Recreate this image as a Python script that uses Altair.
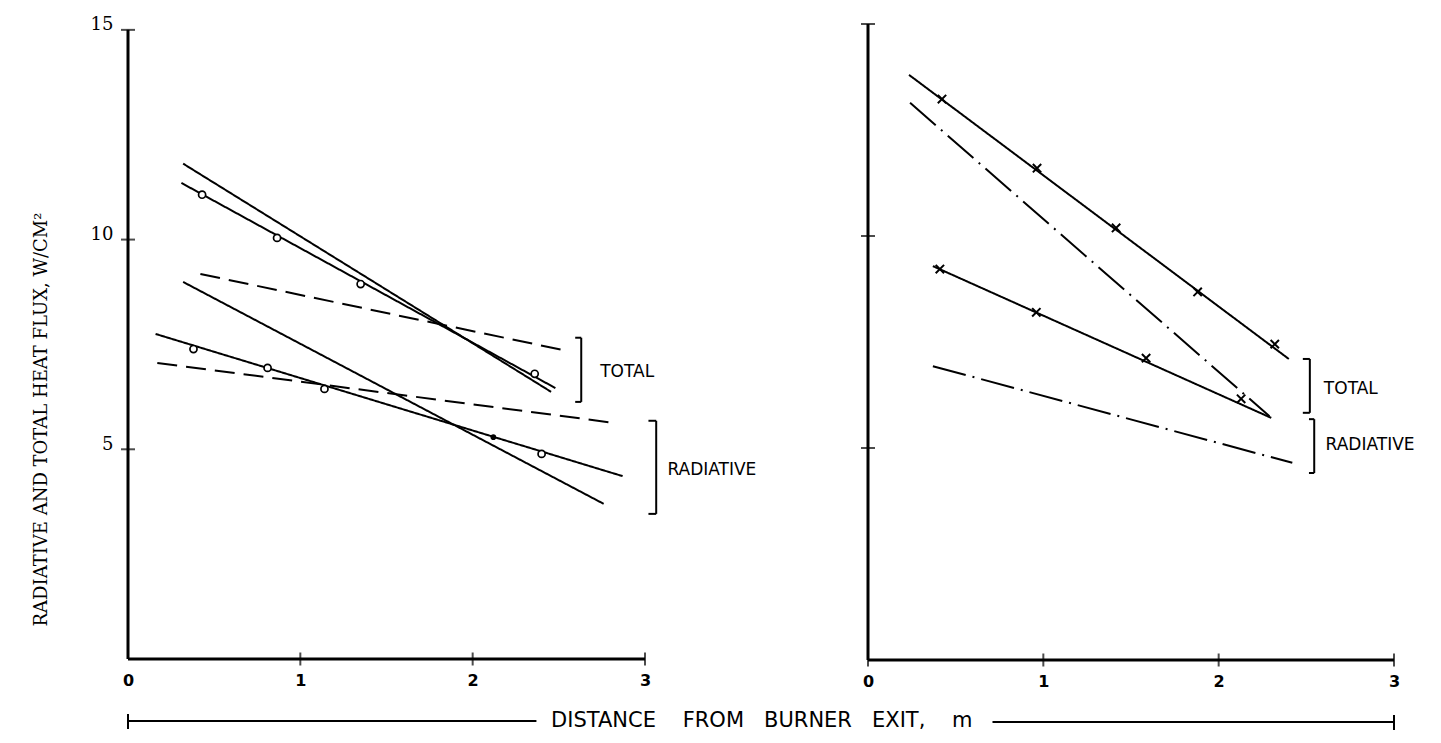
import altair as alt
import pandas as pd

# ---------------- values ----------------
# LEFT PANEL (open circles = measurements)
L_TOT_FIT_X = [0.32, 2.455]
L_TOT_FIT_Y = [11.81, 6.37]
L_TOT_MEAS_X = [0.31, 2.48]
L_TOT_MEAS_Y = [11.35, 6.46]
L_TOT_PTS_X = [0.43, 0.865, 1.35, 2.36]
L_TOT_PTS_Y = [11.07, 10.04, 8.94, 6.80]
L_TOT_DASH_X = [0.42, 2.52]
L_TOT_DASH_Y = [9.18, 7.37]
L_RAD_FIT_X = [0.32, 2.76]
L_RAD_FIT_Y = [8.99, 3.70]
L_RAD_MEAS_X = [0.16, 2.87]
L_RAD_MEAS_Y = [7.75, 4.36]
L_RAD_PTS_X = [0.38, 0.81, 1.14, 2.40]
L_RAD_PTS_Y = [7.39, 6.94, 6.44, 4.89]
L_RAD_DOT_X = [2.12]
L_RAD_DOT_Y = [5.29]
L_RAD_DASH_X = [0.17, 2.82]
L_RAD_DASH_Y = [7.06, 5.63]

# RIGHT PANEL (crosses = measurements)
R_TOT_MEAS_X = [0.234, 2.40]
R_TOT_MEAS_Y = [13.80, 7.10]
R_TOT_PTS_X = [0.422, 0.964, 1.415, 1.88, 2.32]
R_TOT_PTS_Y = [13.23, 11.60, 10.19, 8.68, 7.45]
R_TOT_DD_X = [0.24, 2.29]
R_TOT_DD_Y = [13.14, 5.75]
R_RAD_MEAS_X = [0.37, 2.30]
R_RAD_MEAS_Y = [9.29, 5.71]
R_RAD_PTS_X = [0.41, 0.96, 1.586, 2.128]
R_RAD_PTS_Y = [9.22, 8.20, 7.12, 6.16]
R_RAD_DD_X = [0.37, 2.42]
R_RAD_DD_Y = [6.93, 4.65]

# tick values / labels
X_TICKS = [0, 1, 2, 3]
Y_TICKS = [5, 10, 15]
Y_TITLE = "RADIATIVE AND TOTAL HEAT FLUX, W/CM\u00b2"
X_TITLE = ("DISTANCE\u00a0\u00a0\u00a0\u00a0FROM\u00a0\u00a0\u00a0BURNER"
           "\u00a0\u00a0\u00a0EXIT,\u00a0\u00a0\u00a0\u00a0m")

# bracket annotations: [x, y_top, y_bottom, hook_x], label [x, y]
L_BRACKETS = [[2.63, 7.66, 6.13, 2.595], [3.065, 5.68, 3.46, 3.02]]
L_LABELS = [[2.74, 6.84, "TOTAL"], [3.13, 4.51, "RADIATIVE"]]
R_BRACKETS = [[2.52, 7.10, 5.83, 2.48], [2.545, 5.68, 4.41, 2.515]]
R_LABELS = [[2.60, 6.39, "TOTAL"], [2.61, 5.07, "RADIATIVE"]]

# bottom "distance" rule pieces (in each panel's x units)
L_DIST_LINE = [0, 2.37]
L_DIST_TEXT_X = 2.455
R_DIST_LINE = [0.71, 3]

# ---------------- helpers ----------------
DASH_DOMAIN = ["solid", "dash", "dashdot"]
DASH_RANGE = [[1, 0], [20, 9], [34, 7, 2, 7]]


def lines_df(items):
    rows = []
    for name, style, xs, ys in items:
        for x, y in zip(xs, ys):
            rows.append({"series": name, "style": style, "x": x, "y": y})
    return pd.DataFrame(rows)


def pts_df(xs, ys):
    return pd.DataFrame({"x": xs, "y": ys})


def bracket_df(brs):
    rows = []
    for x, yt, yb, hx in brs:
        rows.append({"x": x, "y": yt, "x2": x, "y2": yb})
        rows.append({"x": hx, "y": yt, "x2": x, "y2": yt})
        rows.append({"x": hx, "y": yb, "x2": x, "y2": yb})
    return pd.DataFrame(rows)


def label_df(lbls):
    return pd.DataFrame([{"x": a, "y": b, "t": c} for a, b, c in lbls])


def panel(width, height, ydom, yaxis, xaxis, line_items, open_pts, filled_pts,
          pt_shape, brackets, labels, xticks, dist_line, dist_text_x, left_cap):
    xs = alt.Scale(domain=[0, 3], nice=False, zero=False)
    ys = alt.Scale(domain=ydom, nice=False, zero=False)
    X = alt.X("x:Q", scale=xs, axis=xaxis)
    Y = alt.Y("y:Q", scale=ys, axis=yaxis)

    axes_lines = pd.DataFrame({"x": [0, 0], "y": [0, 0], "x2": [0, 3], "y2": [15, 0]})
    frame = alt.Chart(axes_lines).mark_rule(color="black", strokeWidth=3).encode(
        x=X, y=Y, x2="x2:Q", y2="y2:Q")

    xt = alt.Chart(pd.DataFrame({"x": xticks, "y": [0] * len(xticks)})).mark_tick(
        orient="vertical", size=13, thickness=2, color="black").encode(x=X, y=Y)
    yt = alt.Chart(pd.DataFrame({"x": [0] * len(Y_TICKS), "y": Y_TICKS})).mark_tick(
        orient="horizontal", size=14, thickness=2, color="black").encode(x=X, y=Y)

    lines = alt.Chart(lines_df(line_items)).mark_line(
        color="black", strokeWidth=2).encode(
        x=X, y=Y, detail="series:N",
        strokeDash=alt.StrokeDash("style:N", scale=alt.Scale(domain=DASH_DOMAIN, range=DASH_RANGE),
                                  legend=None))

    layers = [frame, xt, yt, lines]
    if pt_shape == "circle":
        layers.append(alt.Chart(pts_df(*open_pts)).mark_point(
            shape="circle", size=50, filled=True, fill="white", stroke="black",
            strokeWidth=1.7, opacity=1).encode(x=X, y=Y))
        if filled_pts is not None:
            layers.append(alt.Chart(pts_df(*filled_pts)).mark_point(
                shape="circle", size=32, filled=True, color="black", opacity=1).encode(x=X, y=Y))
    else:
        layers.append(alt.Chart(pts_df(*open_pts)).mark_point(
            shape="M-1,-1L1,1M-1,1L1,-1", size=70, filled=False, stroke="black",
            strokeWidth=2, opacity=1).encode(x=X, y=Y))

    layers.append(alt.Chart(bracket_df(brackets)).mark_rule(color="black", strokeWidth=2).encode(
        x=X, y=Y, x2="x2:Q", y2="y2:Q"))
    layers.append(alt.Chart(label_df(labels)).mark_text(
        align="left", baseline="middle", font="DejaVu Sans", fontSize=17, color="black").encode(
        x=X, y=Y, text="t:N"))

    # bottom "distance" line with end caps
    dl = pd.DataFrame({"x": [dist_line[0]], "x2": [dist_line[1]]})
    layers.append(alt.Chart(dl).mark_rule(color="black", strokeWidth=2).encode(
        x=X, x2="x2:Q", y=alt.value(height + 62)))
    cap_x = dist_line[0] if left_cap else dist_line[1]
    layers.append(alt.Chart(pd.DataFrame({"x": [cap_x]})).mark_rule(
        color="black", strokeWidth=2).encode(
        x=X, y=alt.value(height + 55), y2=alt.value(height + 70)))
    if dist_text_x is not None:
        layers.append(alt.Chart(pd.DataFrame({"x": [dist_text_x], "t": [X_TITLE]})).mark_text(
            align="left", baseline="middle", font="DejaVu Sans", fontSize=21, color="black").encode(
            x=X, y=alt.value(height + 62), text="t:N"))

    return alt.layer(*layers).properties(width=width, height=height)


xaxis = alt.Axis(values=X_TICKS, format="d", title="", grid=False, domain=False, ticks=False,
                 labelFont="DejaVu Sans", labelFontWeight="bold", labelFontSize=16,
                 labelPadding=13, labelColor="black", labelFlush=False)
yaxis_left = alt.Axis(values=Y_TICKS, title=Y_TITLE, grid=False, domain=False, ticks=False,
                      tickSize=0, labelFont="DejaVu Serif", labelFontSize=18, labelPadding=15,
                      labelBaseline="alphabetic", labelColor="black", labelFlush=False,
                      titleFont="DejaVu Serif", titleFontSize=18, titleFontWeight="normal",
                      titleAngle=270, titleX=-82, titleY=395, titleAlign="center",
                      titleBaseline="alphabetic", titleColor="black")
yaxis_right = alt.Axis(labels=False, title="", grid=False, domain=False, ticks=False)

left = panel(
    517, 635, [0, 15.14], yaxis_left, xaxis,
    [("tot_fit", "solid", L_TOT_FIT_X, L_TOT_FIT_Y),
     ("tot_meas", "solid", L_TOT_MEAS_X, L_TOT_MEAS_Y),
     ("tot_dash", "dash", L_TOT_DASH_X, L_TOT_DASH_Y),
     ("rad_fit", "solid", L_RAD_FIT_X, L_RAD_FIT_Y),
     ("rad_meas", "solid", L_RAD_MEAS_X, L_RAD_MEAS_Y),
     ("rad_dash", "dash", L_RAD_DASH_X, L_RAD_DASH_Y)],
    (L_TOT_PTS_X + L_RAD_PTS_X, L_TOT_PTS_Y + L_RAD_PTS_Y),
    (L_RAD_DOT_X, L_RAD_DOT_Y),
    "circle", L_BRACKETS, L_LABELS, [1, 2, 3], L_DIST_LINE, L_DIST_TEXT_X, True)

right = panel(
    526, 636, [0, 15], yaxis_right, xaxis,
    [("tot_meas", "solid", R_TOT_MEAS_X, R_TOT_MEAS_Y),
     ("tot_dd", "dashdot", R_TOT_DD_X, R_TOT_DD_Y),
     ("rad_meas", "solid", R_RAD_MEAS_X, R_RAD_MEAS_Y),
     ("rad_dd", "dashdot", R_RAD_DD_X, R_RAD_DD_Y)],
    (R_TOT_PTS_X + R_RAD_PTS_X, R_TOT_PTS_Y + R_RAD_PTS_Y),
    None,
    "cross", R_BRACKETS, R_LABELS, [0, 1, 2, 3], R_DIST_LINE, None, False)

chart = alt.hconcat(left, right, spacing=223, bounds="flush").properties(
    padding={"left": 24, "top": 7, "right": 5, "bottom": 0},
    background="white",
).configure_view(strokeWidth=0)

chart.save("out.html", embed_options={"renderer": "svg", "actions": False})
